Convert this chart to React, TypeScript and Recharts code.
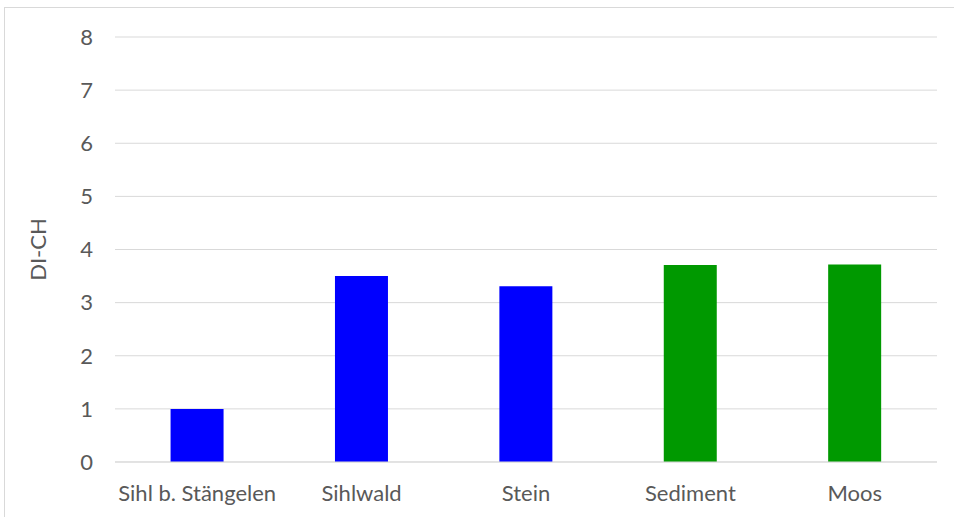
import React from "react";
import { BarChart, Bar, XAxis, YAxis, CartesianGrid, Cell } from "recharts";

// Sampling sites and their DI-CH index values
const sites = ["Sihl b. Stängelen", "Sihlwald", "Stein", "Sediment", "Moos"];
const diCh = [1.0, 3.5, 3.31, 3.71, 3.72];
const siteColors = ["#0000ff", "#0000ff", "#0000ff", "#009900", "#009900"];
const yTicks = [0, 1, 2, 3, 4, 5, 6, 7, 8];

const data = sites.map((site, i) => ({ site, value: diCh[i] }));

const FONT = "Lato, 'Open Sans', sans-serif";
const FONT_SIZE = 22;
const TEXT = "#595959";
const GRID = "#d9d9d9";

const AxisTitle = (props: any) => {
  const vb = props.viewBox || { x: 0, y: 0, width: 0, height: 0 };
  const cx = vb.x + 37;
  const cy = vb.y + vb.height / 2;
  return (
    <text
      x={cx}
      y={cy}
      transform={`rotate(-90, ${cx}, ${cy})`}
      textAnchor="middle"
      dominantBaseline="central"
      fill={TEXT}
      fontSize={FONT_SIZE}
      fontFamily={FONT}
    >
      DI-CH
    </text>
  );
};

export default function App() {
  return (
    <div style={{ position: "fixed", left: 0, top: 0, width: 954, height: 517, background: "#fff", overflow: "hidden" }}>
      <div
        style={{
          position: "absolute",
          left: 4,
          top: 7,
          width: 980,
          height: 540,
          border: `1px solid ${GRID}`,
          boxSizing: "border-box",
        }}
      />
      <div style={{ position: "absolute", left: 0, top: 0 }}>
        <BarChart
          width={954}
          height={517}
          data={data}
          margin={{ top: 37, right: 17, bottom: 0, left: 0 }}
          barCategoryGap="33.8%"
        >
          <CartesianGrid vertical={false} stroke={GRID} strokeWidth={1} />
          <XAxis
            dataKey="site"
            height={55}
            axisLine={{ stroke: GRID }}
            tickLine={false}
            tickSize={0}
            tickMargin={23}
            tick={{ fill: TEXT, fontSize: FONT_SIZE, fontFamily: FONT }}
            interval={0}
          />
          <YAxis
            width={115}
            domain={[0, 8]}
            ticks={yTicks}
            axisLine={false}
            tickLine={false}
            tickSize={0}
            tickMargin={22}
            tick={{ fill: TEXT, fontSize: FONT_SIZE, fontFamily: FONT }}
            label={<AxisTitle />}
          />
          <Bar dataKey="value" isAnimationActive={false}>
            {data.map((d, i) => (
              <Cell key={d.site} fill={siteColors[i]} />
            ))}
          </Bar>
        </BarChart>
      </div>
    </div>
  );
}
